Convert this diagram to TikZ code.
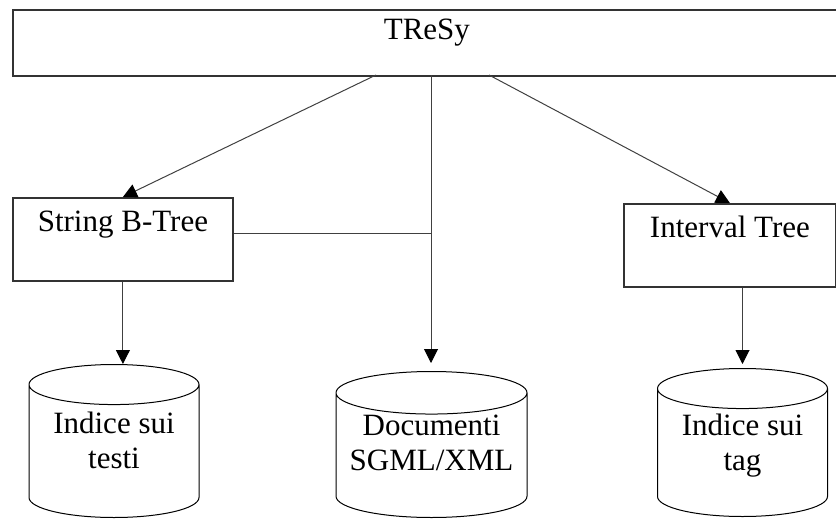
\documentclass[tikz,border=0pt]{standalone}
\usepackage{fontspec}
\setmainfont{Liberation Serif}
\usetikzlibrary{arrows.meta, positioning, shapes.geometric}

\begin{document}
\begin{tikzpicture}[x=0.5pt, y=-0.5pt,
  box/.style={draw=black!80, line width=0.9pt, inner xsep=0pt, inner ysep=0pt, anchor=north west, text height=17pt, font=\fontsize{15.5}{17.5}\selectfont},
  store/.style={cylinder, shape border rotate=90, draw, line width=0.5pt, aspect=0.33, minimum width=85pt, minimum height=76.5pt, align=center, inner sep=0pt, text depth=11pt, anchor=south, font=\fontsize{15.5}{17.5}\selectfont},
  link/.style={draw=black!75, line width=0.5pt, -{Triangle[length=7pt, width=7pt, black]}}]
\useasboundingbox (0,0) rectangle (836,520);
% the three layers: system, index structures, stored data
\node[box, minimum width=414pt, text height=15pt, text depth=18pt] (tresy) at (12,9) {TReSy};
\node[box, minimum width=110pt, text depth=24.5pt] (sbt) at (12,197) {String B-Tree};
\node[box, minimum width=106pt, text depth=24.5pt] (itree) at (623,203) {Interval Tree};
\node[store] (testi) at (114,518) {Indice sui\\testi};
\node[store, minimum width=95.5pt, minimum height=73pt, aspect=0.26, text height=23.5pt, text depth=8.3pt] (docs) at (431.5,518) {Documenti\\SGML/XML};
\node[store, minimum height=74pt] (tag) at (742.5,517) {Indice sui\\tag};
% points where the links leave the top box
\coordinate (outl) at (376,75);
\coordinate (outm) at (431,75);
\coordinate (outr) at (489,75);
\draw[link] (outl) -- (sbt.north);
\draw[link] (outr) -- (itree.north);
\draw[link, shorten >=4pt] (outm) -- (outm |- docs.north);
\draw[draw=black!75, line width=0.5pt] ([yshift=3pt]sbt.east) -- ([yshift=3pt]sbt.east -| outm);
\draw[link] (sbt.south) -- (sbt.south |- testi.north);
\draw[link, shorten >=2pt] (itree.south -| tag.north) -- (tag.north);
\end{tikzpicture}
\end{document}
